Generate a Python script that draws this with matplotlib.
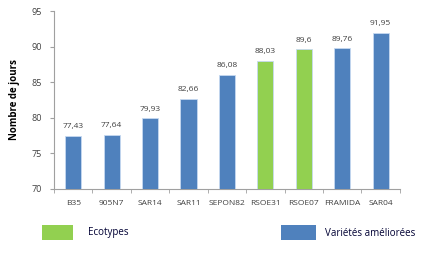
import matplotlib
matplotlib.use("Agg")
import matplotlib.pyplot as plt
from matplotlib.patches import Rectangle
import numpy as np

categories = ["B35", "905N7", "SAR14", "SAR11", "SEPON82", "RSOE31", "RSOE07", "FRAMIDA", "SAR04"]
values = [77.43, 77.64, 79.93, 82.66, 86.08, 88.03, 89.6, 89.76, 91.95]
groups = ["v", "v", "v", "v", "v", "e", "e", "v", "v"]
labels = ["77,43", "77,64", "79,93", "82,66", "86,08", "88,03", "89,6", "89,76", "91,95"]
yticks = [70, 75, 80, 85, 90, 95]

BLUE = "#4F81BD"
GREEN = "#92D050"
colors = [GREEN if g == "e" else BLUE for g in groups]

plt.rcParams['font.family'] = ['Open Sans', 'DejaVu Sans']

fig = plt.figure(figsize=(4.29, 2.57), dpi=100)
ax = fig.add_axes([0.126, 0.265, 0.806, 0.692])
x = np.arange(len(categories))
ax.bar(x, values, width=0.42, color=colors, edgecolor="#c6d9f1", linewidth=0.6, zorder=3)
for xi, v, l in zip(x, values, labels):
    ax.text(xi, v + 0.8, l, ha="center", va="bottom", fontsize=6, color="#404040")

ax.set_ylim(70, 95)
ax.set_xlim(-0.5, len(categories) - 0.5)
ax.set_yticks(yticks)
ax.set_yticklabels([str(t) for t in yticks], fontsize=6.5, color="#404040")
ax.set_xticks(x)
ax.set_xticklabels(categories, fontsize=6, color="#404040")
ax.tick_params(axis="x", length=0, pad=8)
ax.set_xticks(np.arange(-0.5, len(categories), 1), minor=True)
ax.tick_params(axis="x", which="minor", length=3, color="#a0a0a0")
ax.tick_params(axis="y", length=3, color="#a0a0a0", pad=6)
for s in ["top", "right"]:
    ax.spines[s].set_visible(False)
ax.spines["left"].set_color("#a0a0a0")
ax.spines["bottom"].set_color("#a0a0a0")
ax.set_ylabel("Nombre de jours", fontsize=7, fontweight="bold", labelpad=8)

# legend
fig.patches.append(Rectangle((42/429, 1-240/257), 31/429, 15/257, transform=fig.transFigure,
                             facecolor=GREEN, edgecolor="none"))
fig.text(88/429, 1-233/257, "Ecotypes", fontsize=7, va="center", color="#000033")
fig.patches.append(Rectangle((281/429, 1-240/257), 35/429, 15/257, transform=fig.transFigure,
                             facecolor=BLUE, edgecolor="none"))
fig.text(325/429, 1-233/257, "Variétés améliorées", fontsize=7, va="center", color="#000033")

fig.savefig("out.png", dpi=100)
